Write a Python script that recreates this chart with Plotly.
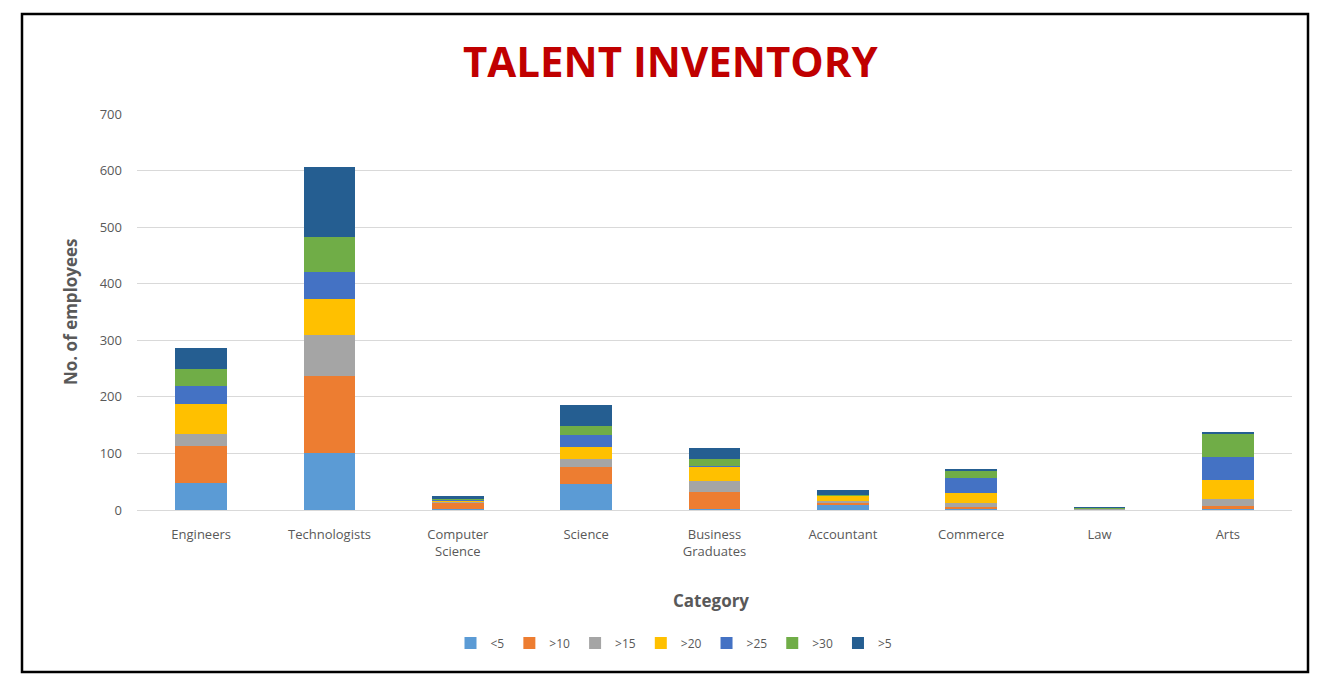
import plotly.graph_objects as go

categories = ["Engineers", "Technologists", "Computer<br>Science", "Science",
              "Business<br>Graduates", "Accountant", "Commerce", "Law", "Arts"]

series_names = ["<5", ">10", ">15", ">20", ">25", ">30", ">5"]

lt5 = [47, 101, 1, 46, 1, 10, 1, 1, 1]
gt10 = [66, 135, 12, 30, 31, 2, 4, 0, 6]
gt15 = [21, 73, 2, 14, 19, 4, 7, 2, 12]
gt20 = [53, 64, 2, 22, 26, 9, 18, 0, 34]
gt25 = [32, 48, 2, 20, 1, 1, 26, 0, 41]
gt30 = [31, 61, 1, 16, 13, 1, 14, 1, 41]
gt5 = [37, 125, 5, 37, 18, 8, 2, 1, 2]

series_values = [lt5, gt10, gt15, gt20, gt25, gt30, gt5]
colors = ["#5B9BD5", "#ED7D31", "#A5A5A5", "#FFC000", "#4472C4", "#70AD47", "#255E91"]

y_ticks = [0, 100, 200, 300, 400, 500, 600, 700]

fig = go.Figure()
for name, vals, col in zip(series_names, series_values, colors):
    fig.add_trace(go.Bar(x=categories, y=vals, name=name, marker_color=col,
                         marker_line_width=0))

W, H = 1318, 675
L, R, T, B = 137, 26, 114, 165
pw, ph = W - L - R, H - T - B

def px_x(x):
    return (x - L) / pw

def px_y(y):
    return (H - B - y) / ph

grey = "#595959"
base_font = "Open Sans, Liberation Sans, sans-serif"

fig.update_layout(
    width=W, height=H,
    margin=dict(l=L, r=R, t=T, b=B),
    barmode="stack",
    bargap=0.595,
    plot_bgcolor="white",
    paper_bgcolor="white",
    font=dict(family=base_font, color=grey, size=13),
    showlegend=True,
    legend=dict(orientation="h", x=px_x(674), y=px_y(643), xanchor="center",
                yanchor="middle", font=dict(size=12, color=grey),
                itemwidth=30, traceorder="normal"),
    xaxis=dict(showgrid=False, showline=True, linecolor="#D9D9D9", linewidth=1,
               ticks="", ticklabelstandoff=12, tickfont=dict(size=13, color=grey)),
    yaxis=dict(range=[0, 700], tickvals=y_ticks, showgrid=True, gridcolor="#D9D9D9",
               gridwidth=1, zeroline=False, showline=False, ticks="",
               ticklabelstandoff=14, tickfont=dict(size=13, color=grey)),
    annotations=[
        dict(text="<b>TALENT INVENTORY</b>", x=px_x(670), y=px_y(61), xref="paper",
             yref="paper", showarrow=False, xanchor="center", yanchor="middle",
             font=dict(size=42, color="#C00000", family=base_font)),
        dict(text="<b>No. of employees</b>", x=px_x(70), y=px_y(312), xref="paper",
             yref="paper", showarrow=False, textangle=-90, xanchor="center",
             yanchor="middle", font=dict(size=17, color=grey)),
        dict(text="<b>Category</b>", x=px_x(711), y=px_y(600), xref="paper",
             yref="paper", showarrow=False, xanchor="center", yanchor="middle",
             font=dict(size=17, color=grey)),
    ],
    shapes=[
        dict(type="rect", xref="paper", yref="paper",
             x0=px_x(22), x1=px_x(1308), y0=px_y(672), y1=px_y(14),
             line=dict(color="black", width=2.5), fillcolor="rgba(0,0,0,0)",
             layer="above"),
    ],
)

fig.write_html("out.html")
